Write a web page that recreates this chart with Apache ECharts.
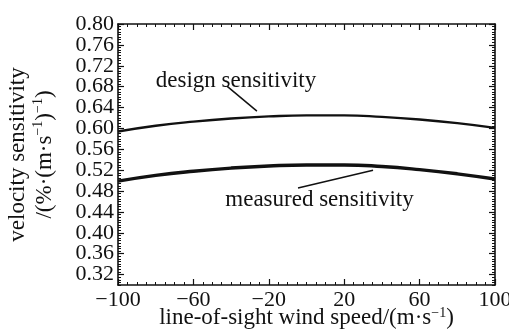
<!DOCTYPE html>
<html>
<head>
<meta charset="utf-8">
<script src="https://cdn.jsdelivr.net/npm/echarts@6/dist/echarts.min.js"></script>
<style>
  html, body { margin: 0; padding: 0; background: #fff; }
  #chart { width: 509px; height: 331px; }
</style>
</head>
<body>
<div id="chart"></div>
<script>
// Line-of-sight wind speed (m/s)
const windSpeed = [-100, -80, -60, -40, -20, 0, 20, 40, 60, 80, 100];
// Velocity sensitivity, %/(m/s)
const designSensitivity = [0.594, 0.605, 0.613, 0.619, 0.623, 0.625, 0.625, 0.622, 0.617, 0.610, 0.601];
const measuredSensitivity = [0.499, 0.510, 0.518, 0.524, 0.528, 0.530, 0.530, 0.527, 0.521, 0.513, 0.503];
// Labelled ticks
const xTickLabels = [-100, -60, -20, 20, 60, 100];
const yTickLabels = [0.32, 0.36, 0.40, 0.44, 0.48, 0.52, 0.56, 0.60, 0.64, 0.68, 0.72, 0.76, 0.80];
// Annotation texts and arrows: [text x, text y], [arrow start], [arrow end]
const designNote = { text: 'design sensitivity', at: [-37.4, 0.691], from: [-42.2, 0.681], to: [-26.3, 0.633] };
const measuredNote = { text: 'measured sensitivity', at: [6.9, 0.463], from: [-4.5, 0.486], to: [35.3, 0.520] };

const FONT = '"Liberation Serif", "Times New Roman", serif';
const INK = '#111';

const pairs = (xs, ys) => xs.map((x, i) => [x, ys[i]]);
const minus = v => (v < 0 ? '\u2212' + Math.abs(v) : String(v));
// The y labels sit closer than their glyph height, so they are split over two
// overlapping axes to keep the library from dropping neighbours of min/max.
const yLabelsEven = yTickLabels.filter((_, i) => i % 2 === 0);
const yLabelsOdd = yTickLabels.filter((_, i) => i % 2 === 1);

const frameLine = { show: true, onZero: false, lineStyle: { color: INK, width: 1.6 } };
const noLine = { show: false, onZero: false };
const minorX = { min: -100, max: 100, interval: 5 };
const minorY = { min: 0.30, max: 0.80, interval: 0.005 };

function yLabelAxis(values, extra) {
  return Object.assign({
    type: 'value', position: 'left', min: 0.30, max: 0.80, axisLine: noLine,
    axisTick: { show: true, inside: true, length: 6, customValues: values, lineStyle: { color: INK, width: 1.2 } },
    axisLabel: { show: true, customValues: values, formatter: v => v.toFixed(2), margin: 4,
      showMinLabel: true, showMaxLabel: true, hideOverlap: false,
      fontFamily: FONT, fontSize: 22, color: INK },
    splitLine: { show: false }
  }, extra || {});
}

function note(n) {
  return {
    symbol: 'circle',
    symbolSize: 1,
    itemStyle: { color: 'rgba(0,0,0,0)' },
    label: {
      show: true, position: 'inside', formatter: n.text,
      fontFamily: FONT, fontSize: 23, color: INK
    },
    data: [{ coord: n.at }]
  };
}
function arrow(n) {
  return {
    silent: true,
    symbol: ['none', 'arrow'],
    symbolSize: [0, 9],
    lineStyle: { color: INK, width: 1.5, type: 'solid' },
    label: { show: false },
    data: [[{ coord: n.from }, { coord: n.to }]]
  };
}

const chart = echarts.init(document.getElementById('chart'), null, { renderer: 'canvas' });
chart.setOption({
  animation: false,
  backgroundColor: '#fff',
  grid: { left: 118, right: 14, top: 24, bottom: 46, containLabel: false, outerBoundsMode: 'none' },
  xAxis: [
    Object.assign({ type: 'value', position: 'bottom', axisLine: frameLine,
      axisTick: { show: true, inside: true, length: 3, lineStyle: { color: INK } },
      axisLabel: { show: false }, splitLine: { show: false } }, minorX),
    { type: 'value', position: 'bottom', min: -100, max: 100,
      axisLine: noLine,
      axisTick: { show: true, inside: true, length: 6, customValues: xTickLabels, lineStyle: { color: INK, width: 1.2 } },
      axisLabel: { show: true, customValues: xTickLabels, formatter: minus, margin: 4,
        showMinLabel: true, showMaxLabel: true, hideOverlap: false,
        fontFamily: FONT, fontSize: 22, color: INK },
      splitLine: { show: false },
      name: 'line-of-sight wind speed/(m\u00b7s{sup|\u22121})',
      nameLocation: 'middle', nameGap: 21, nameMoveOverlap: false,
      nameTextStyle: { fontFamily: FONT, fontSize: 23, color: INK,
        rich: { sup: { fontFamily: FONT, fontSize: 14, color: INK, verticalAlign: 'top', padding: [0, 0, 10, 0] } } } },
    Object.assign({ type: 'value', position: 'top', axisLine: frameLine,
      axisTick: { show: true, inside: true, length: 3, lineStyle: { color: INK } },
      axisLabel: { show: false }, splitLine: { show: false } }, minorX),
    { type: 'value', position: 'top', min: -100, max: 100, axisLine: noLine,
      axisTick: { show: true, inside: true, length: 6, customValues: xTickLabels, lineStyle: { color: INK, width: 1.2 } },
      axisLabel: { show: false }, splitLine: { show: false } }
  ],
  yAxis: [
    Object.assign({ type: 'value', position: 'left', axisLine: frameLine,
      axisTick: { show: true, inside: true, length: 3, lineStyle: { color: INK } },
      axisLabel: { show: false }, splitLine: { show: false } }, minorY),
    yLabelAxis(yLabelsEven, {
      name: 'velocity sensitivity\n/(%\u00b7(m\u00b7s{sup|\u22121}){sup|\u22121})',
      nameLocation: 'middle', nameGap: 60, nameRotate: 90, nameMoveOverlap: false,
      nameTextStyle: { fontFamily: FONT, fontSize: 23, color: INK, lineHeight: 27,
        rich: { sup: { fontFamily: FONT, fontSize: 14, color: INK, verticalAlign: 'top', padding: [0, 0, 10, 0] } } }
    }),
    yLabelAxis(yLabelsOdd),
    Object.assign({ type: 'value', position: 'right', axisLine: frameLine,
      axisTick: { show: true, inside: true, length: 3, lineStyle: { color: INK } },
      axisLabel: { show: false }, splitLine: { show: false } }, minorY),
    { type: 'value', position: 'right', min: 0.30, max: 0.80, axisLine: noLine,
      axisTick: { show: true, inside: true, length: 6, customValues: yTickLabels, lineStyle: { color: INK, width: 1.2 } },
      axisLabel: { show: false }, splitLine: { show: false } }
  ],
  series: [
    {
      name: 'design sensitivity', type: 'line', xAxisIndex: 0, yAxisIndex: 0,
      data: pairs(windSpeed, designSensitivity), smooth: true, showSymbol: false,
      lineStyle: { color: INK, width: 2.4 },
      markLine: arrow(designNote), markPoint: note(designNote)
    },
    {
      name: 'measured sensitivity', type: 'line', xAxisIndex: 0, yAxisIndex: 0,
      data: pairs(windSpeed, measuredSensitivity), smooth: true, showSymbol: false,
      lineStyle: { color: INK, width: 3.4 },
      markLine: arrow(measuredNote), markPoint: note(measuredNote)
    }
  ]
});
</script>
</body>
</html>
